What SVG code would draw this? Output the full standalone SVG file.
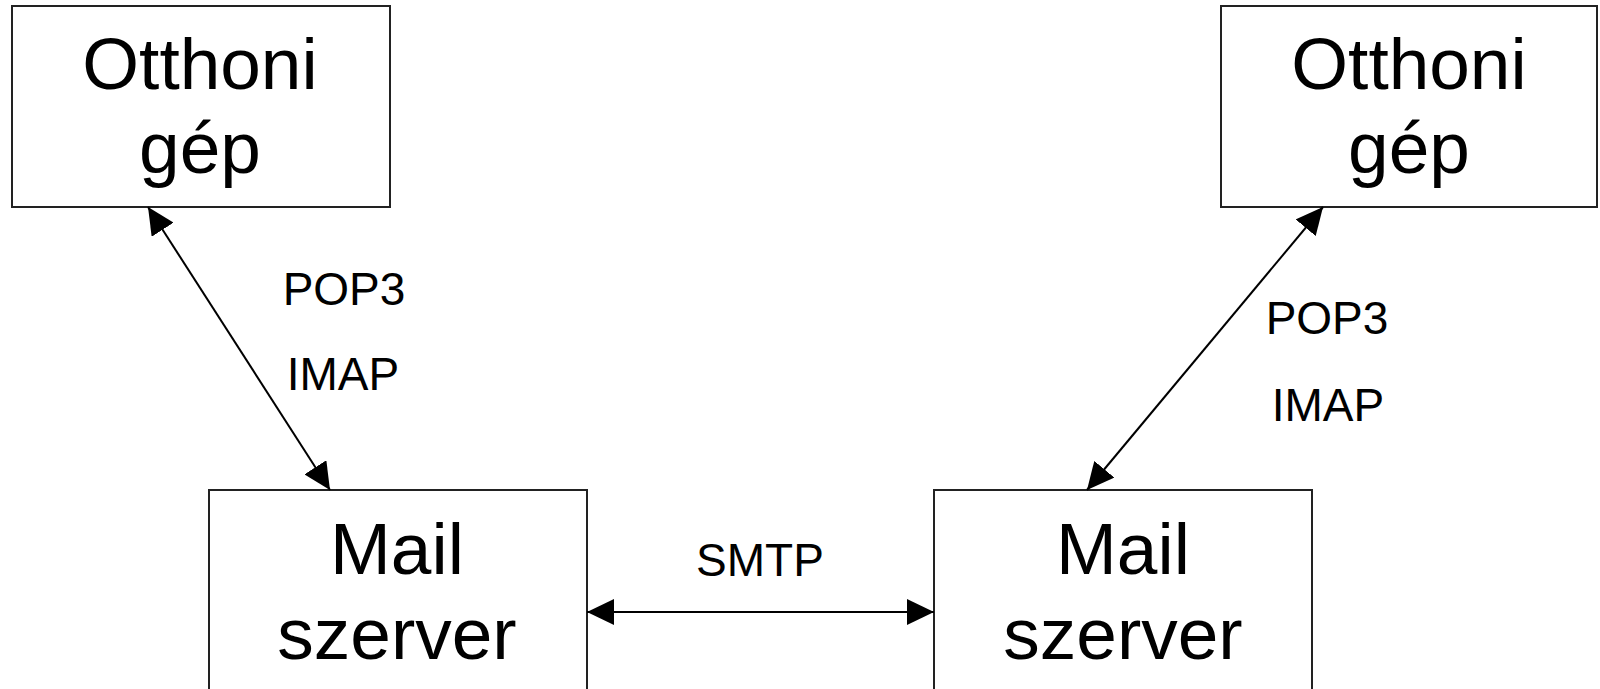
<svg xmlns="http://www.w3.org/2000/svg" width="1600" height="689" viewBox="0 0 1600 689">
<style>
.box{fill:#fff;stroke:#222;stroke-width:2}
.big{font-family:"Liberation Sans",Arial,sans-serif;font-size:73px;fill:#000;text-anchor:middle}
.lbl{font-family:"Liberation Sans",Arial,sans-serif;font-size:46px;fill:#000;text-anchor:middle}
.conn{stroke:#000;stroke-width:2;fill:none;marker-start:url(#ah);marker-end:url(#ah)}
</style>
<defs>
<marker id="ah" markerUnits="userSpaceOnUse" markerWidth="27" markerHeight="26" refX="27" refY="13" orient="auto-start-reverse" viewBox="0 0 27 26">
<path d="M0,0 L27,13 L0,26 Z" fill="#000"/>
</marker>
</defs>
<rect width="1600" height="689" fill="#fff"/>
<g id="otthoni-bal">
<rect class="box" x="12" y="6" width="378" height="201"/>
<text class="big" x="200" y="89">Otthoni</text>
<text class="big" x="200" y="173">gép</text>
</g>
<g id="otthoni-jobb">
<rect class="box" x="1221" y="6" width="376" height="201"/>
<text class="big" x="1409" y="89">Otthoni</text>
<text class="big" x="1409" y="173">gép</text>
</g>
<g id="mail-bal">
<rect class="box" x="209" y="490" width="378" height="220"/>
<text class="big" x="397" y="574">Mail</text>
<text class="big" x="397" y="659">szerver</text>
</g>
<g id="mail-jobb">
<rect class="box" x="934" y="490" width="378" height="220"/>
<text class="big" x="1123" y="574">Mail</text>
<text class="big" x="1123" y="659">szerver</text>
</g>
<g id="connectors">
<line class="conn" x1="148" y1="207" x2="330" y2="490"/>
<line class="conn" x1="1323" y1="207" x2="1087" y2="490"/>
<line class="conn" x1="587" y1="612" x2="934" y2="612"/>
<text class="lbl" x="344" y="305">POP3</text>
<text class="lbl" x="343" y="390">IMAP</text>
<text class="lbl" x="1327" y="334">POP3</text>
<text class="lbl" x="1328" y="421">IMAP</text>
<text class="lbl" x="760" y="576">SMTP</text>
</g>
</svg>
